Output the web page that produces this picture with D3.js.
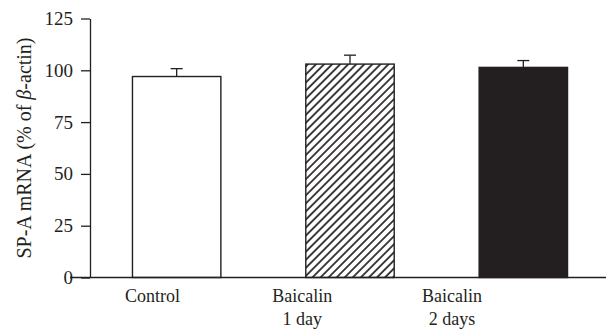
<!DOCTYPE html>
<html>
<head>
<meta charset="utf-8">
<script src="https://cdn.jsdelivr.net/npm/d3@7"></script>
<style>
  body { margin: 0; background: #fff; }
  svg { display: block; font-family: "Liberation Serif", "DejaVu Serif", serif; }
</style>
</head>
<body>
<div id="chart"></div>
<script>
// Data
const groups = ["Control", "Baicalin 1 day", "Baicalin 2 days"];
const labelLines = [["Control"], ["Baicalin", "1 day"], ["Baicalin", "2 days"]];
const means = [97, 103, 101.4];
const errors = [3.8, 4.3, 3.3];
const yTicks = [0, 25, 50, 75, 100, 125];

// Dimensions
const width = 606;
const height = 331;
const ink = "#231f20";

const svg = d3
  .select("#chart")
  .append("svg")
  .attr("width", width)
  .attr("height", height);

// Hatch pattern for the 1 day bar
const defs = svg.append("defs");
defs
  .append("pattern")
  .attr("id", "hatch")
  .attr("patternUnits", "userSpaceOnUse")
  .attr("width", 5.7)
  .attr("height", 10)
  .attr("patternTransform", "rotate(45)")
  .append("line")
  .attr("x1", 1)
  .attr("y1", 0)
  .attr("x2", 1)
  .attr("y2", 10)
  .attr("stroke", ink)
  .attr("stroke-width", 1.7);

// Scales
const x = d3.scaleBand().domain(groups).range([90, 610]).paddingInner(0.49).paddingOuter(0.245);
const xLabel = d3.scalePoint().domain(groups).range([152.5, 452]);
const y = d3.scaleLinear().domain([0, 125]).range([277.5, 18.5]);

const fills = ["#fff", "url(#hatch)", ink];

// Bars
svg
  .selectAll("rect.bar")
  .data(groups)
  .enter()
  .append("rect")
  .attr("class", "bar")
  .attr("x", (d) => x(d))
  .attr("y", (d, i) => y(means[i]))
  .attr("width", x.bandwidth())
  .attr("height", (d, i) => y(0) - y(means[i]))
  .attr("fill", (d, i) => fills[i])
  .attr("stroke", ink)
  .attr("stroke-width", 1.4);

// Error bars (upper only)
const err = svg.selectAll("g.err").data(groups).enter().append("g").attr("class", "err");
err
  .append("line")
  .attr("x1", (d) => x(d) + x.bandwidth() / 2)
  .attr("x2", (d) => x(d) + x.bandwidth() / 2)
  .attr("y1", (d, i) => y(means[i]))
  .attr("y2", (d, i) => y(means[i] + errors[i]))
  .attr("stroke", ink)
  .attr("stroke-width", 1.3);
err
  .append("line")
  .attr("x1", (d) => x(d) + x.bandwidth() / 2 - 6)
  .attr("x2", (d) => x(d) + x.bandwidth() / 2 + 6)
  .attr("y1", (d, i) => y(means[i] + errors[i]))
  .attr("y2", (d, i) => y(means[i] + errors[i]))
  .attr("stroke", ink)
  .attr("stroke-width", 1.3);

// Y axis
const yAxis = svg
  .append("g")
  .attr("transform", "translate(90,0)")
  .call(d3.axisLeft(y).tickValues(yTicks).tickSize(9).tickSizeOuter(0).tickPadding(8));
yAxis.selectAll("line, path").attr("stroke", ink).attr("stroke-width", 1.3);
yAxis.selectAll("text").attr("fill", ink).style("font-size", "19px").style("font-family", "Liberation Serif");

// X axis line
svg
  .append("line")
  .attr("x1", 70)
  .attr("x2", width)
  .attr("y1", y(0))
  .attr("y2", y(0))
  .attr("stroke", ink)
  .attr("stroke-width", 1.3);

// Category labels
const lab = svg
  .selectAll("text.cat")
  .data(groups)
  .enter()
  .append("text")
  .attr("class", "cat")
  .attr("x", (d) => xLabel(d))
  .attr("y", 302)
  .attr("text-anchor", "middle")
  .attr("fill", ink)
  .style("font-size", "18px");
lab
  .selectAll("tspan")
  .data((d, i) => labelLines[i])
  .enter()
  .append("tspan")
  .attr("x", function () { return d3.select(this.parentNode).attr("x"); })
  .attr("dy", (d, i) => (i === 0 ? 0 : 23))
  .text((d) => d);

// Y axis title
const title = svg
  .append("text")
  .attr("transform", "translate(31,148) rotate(-90)")
  .attr("text-anchor", "middle")
  .attr("fill", ink)
  .style("font-size", "20px");
title.append("tspan").text("SP-A mRNA (% of ");
title.append("tspan").style("font-style", "italic").text("β");
title.append("tspan").text("-actin)");
</script>
</body>
</html>
